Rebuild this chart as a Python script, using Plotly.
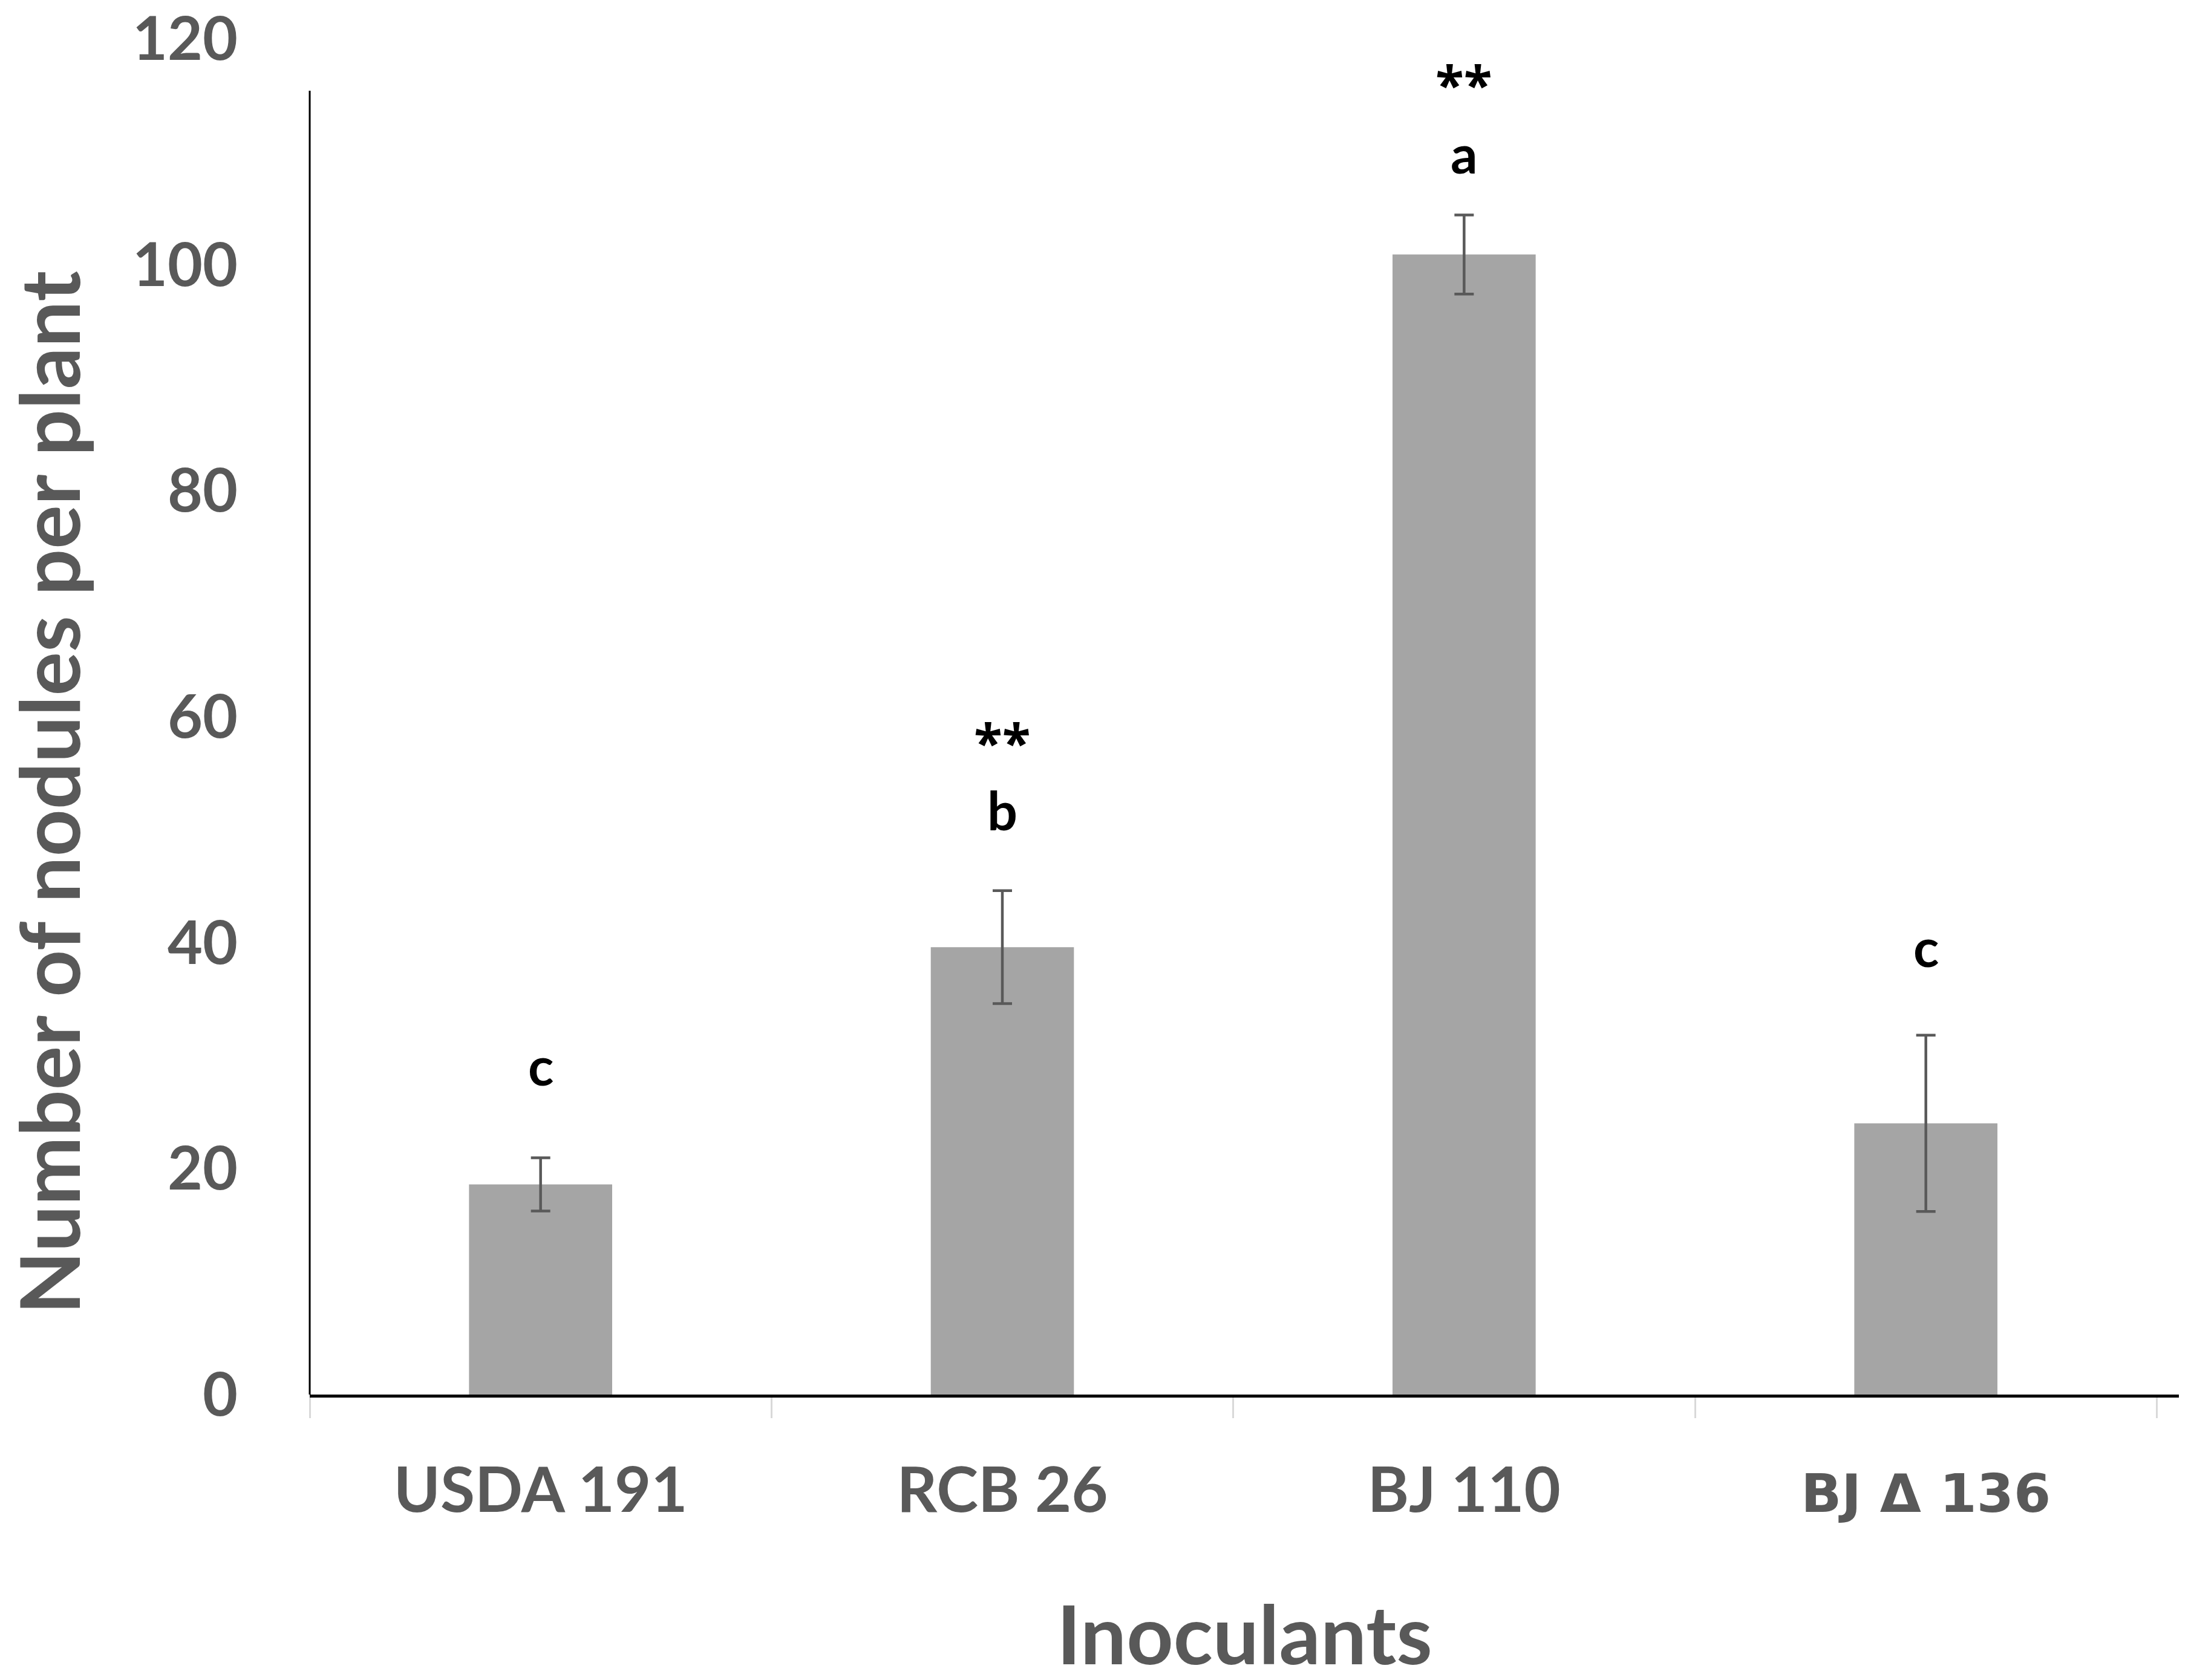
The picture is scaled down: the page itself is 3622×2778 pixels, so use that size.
import plotly.graph_objects as go

categories = ["USDA 191", "RCB 26", "BJ 110", "BJ Δ 136"]
tick_text = ["<b>USDA 191</b>", "<b>RCB 26</b>", "<b>BJ 110</b>",
             "<span style='font-family:DejaVu Sans;font-size:88px'><b>BJ Δ 136</b></span>"]
nodules = [18.6, 39.6, 100.9, 24.0]
errors = [2.35, 5.0, 3.5, 7.8]
letters = ["c", "b", "a", "c"]
letter_y = [28.9, 51.5, 109.6, 39.4]
stars = ["", "**", "**", ""]
star_y = [None, 58.6, 116.8, None]
y_ticks = [0, 20, 40, 60, 80, 100, 120]
AXIS_TOP = 115.4

W, H = 3622, 2778
GRAY = "#595959"
FONT = "Lato"

fig = go.Figure()
fig.add_trace(go.Bar(
    x=categories, y=nodules,
    width=0.31,
    marker=dict(color="#a5a5a5", line=dict(width=0)),
    error_y=dict(type="data", array=errors, visible=True,
                 color=GRAY, thickness=4.5, width=16),
    showlegend=False,
))

annotations = []
for c, t, yv in zip(categories, letters, letter_y):
    annotations.append(dict(x=c, y=yv, xref="x", yref="y", text="<b>%s</b>" % t,
                            showarrow=False, yanchor="middle", yshift=5,
                            font=dict(family=FONT, size=88, color="black")))
for c, t, yv in zip(categories, stars, star_y):
    if t:
        annotations.append(dict(x=c, y=yv, xref="x", yref="y", text="<b>%s</b>" % t,
                                showarrow=False, yanchor="middle", yshift=-15,
                                font=dict(family="Open Sans", size=86, color="black")))
annotations.append(dict(x=0, y=0.444, xref="paper", yref="paper",
                        text="<b>Number of nodules per plant</b>", textangle=-90,
                        showarrow=False, xanchor="center", yanchor="middle", xshift=-432,
                        font=dict(family=FONT, size=136, color=GRAY)))
annotations.append(dict(x=0.5, y=0, xref="paper", yref="paper",
                        text="<b>Inoculants</b>",
                        showarrow=False, xanchor="center", yanchor="middle", yshift=-394,
                        font=dict(family=FONT, size=135, color=GRAY)))

fig.update_layout(
    width=W, height=H,
    margin=dict(l=504, r=28, t=56, b=480, pad=0, autoexpand=False),
    paper_bgcolor="white", plot_bgcolor="white",
    annotations=annotations,
    shapes=[dict(type="line", xref="paper", yref="y", x0=0, x1=0, y0=0, y1=AXIS_TOP,
                 line=dict(color="black", width=3))],
    xaxis=dict(
        type="category", automargin=False,
        range=[-0.5, 3.548],
        tickmode="array", tickvals=categories, ticktext=tick_text,
        showline=True, linecolor="black", linewidth=5,
        ticks="outside", tickson="boundaries", ticklen=34, tickwidth=3, tickcolor="#d9d9d9",
        showgrid=False, zeroline=False,
        tickfont=dict(family=FONT, size=104, color=GRAY),
        ticklabelstandoff=64,
    ),
    yaxis=dict(
        automargin=False,
        range=[0, 120], tickmode="array", tickvals=y_ticks,
        ticktext=["<b>%d</b>" % v for v in y_ticks],
        showline=False, showgrid=False, zeroline=False, ticks="",
        tickfont=dict(family=FONT, size=100, color=GRAY),
        ticklabelstandoff=118, ticklabeloverflow="allow",
    ),
)

fig.write_html("out.html")
